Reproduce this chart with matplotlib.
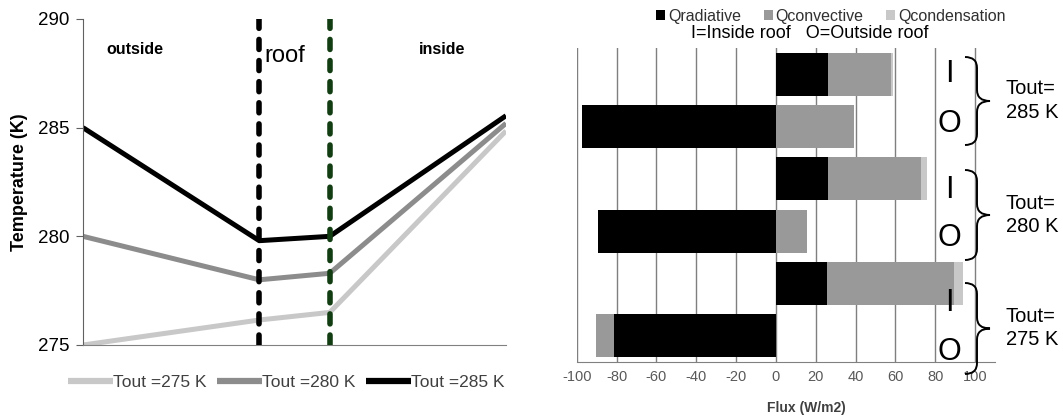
#!/usr/bin/env python

# Roof temperature profiles and surface heat fluxes

import numpy as np
import matplotlib
matplotlib.use("Agg")
import matplotlib.pyplot as plt
from matplotlib.path import Path
from matplotlib.patches import PathPatch

plt.rcParams['font.family'] = ['Liberation Sans', 'DejaVu Sans']

########################################################################
# data - left panel: temperature through the roof

xPos = [0.0, 1.25, 1.75, 3.0]   # outside, roof outer, roof inner, inside
temp275 = [275.0, 276.15, 276.5, 284.85]
temp280 = [280.0, 278.0, 278.3, 285.2]
temp285 = [285.0, 279.8, 280.0, 285.55]
seriesLabels = ['Tout =275 K', 'Tout =280 K', 'Tout =285 K']

# data - right panel: fluxes, bottom to top
# 275 O, 275 I, 280 O, 280 I, 285 O, 285 I
qRad = [-81.5, 25.8, -89.5, 26.0, -97.5, 26.4]
qConv = [-8.8, 63.7, 15.5, 46.8, 39.0, 31.2]
qCond = [0.0, 4.2, 0.0, 3.1, 0.0, 1.2]
fluxTicks = [-100, -80, -60, -40, -20, 0, 20, 40, 60, 80, 100]
toutLabels = ['Tout=\n275 K', 'Tout=\n280 K', 'Tout=\n285 K']

W, H = 1063, 419

def fx(px):
    return px / W

def fy(py):
    return 1.0 - py / H

########################################################################

def plotTemps(ax):

    ax.plot(xPos, temp275, color='#c8c8c8', linewidth=3.6, label=seriesLabels[0],
            solid_capstyle='butt')
    ax.plot(xPos, temp280, color='#8c8c8c', linewidth=3.6, label=seriesLabels[1],
            solid_capstyle='butt')
    ax.plot(xPos, temp285, color='black', linewidth=3.6, label=seriesLabels[2],
            solid_capstyle='butt')

    ax.axvline(xPos[1], color='black', linewidth=4.0, linestyle=(0, (1.8, 2.0)),
               dash_capstyle='round', zorder=5)
    ax.axvline(xPos[2], color='#123d12', linewidth=4.0, linestyle=(0, (1.8, 2.0)),
               dash_capstyle='round', zorder=5)

    ax.set_xlim(xPos[0], xPos[-1])
    ax.set_ylim(275, 290)
    ax.set_yticks([275, 280, 285, 290])
    ax.set_xticks([])
    ax.tick_params(axis='y', labelsize=13.5, length=5, color='#606060',
                   labelcolor='black', pad=5)
    for spine in ['top', 'right']:
        ax.spines[spine].set_visible(False)
    ax.spines['left'].set_color('#606060')
    ax.spines['bottom'].set_color('#808080')
    ax.set_ylabel('Temperature (K)', fontsize=13, fontweight='bold', labelpad=7)

    ax.text(0.37, 288.6, 'outside', fontsize=11.5, fontweight='bold',
            ha='center', va='center')
    ax.text(2.55, 288.6, 'inside', fontsize=11.5, fontweight='bold',
            ha='center', va='center')
    ax.text(1.43, 288.3, 'roof', fontsize=17, ha='center', va='center')

    leg = ax.legend(loc='center', bbox_to_anchor=(0.48, -0.115), ncol=3,
                    frameon=False, fontsize=12.5, handlelength=2.6,
                    handletextpad=0.0, columnspacing=0.6)
    for t in leg.get_texts():
        t.set_color('#404040')
    for ln in leg.get_lines():
        ln.set_linewidth(4.5)

########################################################################

def plotFlux(fig, ax):

    yPos = np.arange(len(qRad))
    rad = np.array(qRad)
    conv = np.array(qConv)
    cond = np.array(qCond)

    convLeft = np.where(conv >= 0, np.maximum(rad, 0), np.minimum(rad, 0))
    condLeft = convLeft + conv

    h = 0.82
    bRad = ax.barh(yPos, rad, height=h, color='black', label='Qradiative', zorder=3)
    bConv = ax.barh(yPos, conv, left=convLeft, height=h, color='#999999',
                    label='Qconvective', zorder=3)
    bCond = ax.barh(yPos, cond, left=condLeft, height=h, color='#c8c8c8',
                    label='Qcondensation', zorder=3)

    ax.set_xlim(-100, 110)
    ax.set_ylim(-0.5, len(qRad) - 0.5)
    ax.set_xticks(fluxTicks)
    ax.set_xticklabels([str(v) for v in fluxTicks])
    ax.set_yticks([])
    ax.grid(True, axis='x', color='#7f7f7f', linewidth=1.0, zorder=0)
    ax.tick_params(axis='x', length=0, labelsize=10.5, labelcolor='#595959', pad=6)
    for spine in ['top', 'right', 'left']:
        ax.spines[spine].set_visible(False)
    ax.spines['bottom'].set_color('#808080')

    fig.text(fx(806), fy(408), 'Flux (W/m2)', fontsize=10, fontweight='bold',
             color='#404040', ha='center', va='center')

    leg = fig.legend(handles=[bRad, bConv, bCond], loc='center',
                     bbox_to_anchor=(fx(831), fy(16)), ncol=3, frameon=False,
                     fontsize=11.5, handlelength=0.55, handleheight=0.55,
                     handletextpad=0.2, columnspacing=1.4)
    for t in leg.get_texts():
        t.set_color('#303030')

    fig.text(fx(810), fy(33), 'I=Inside roof   O=Outside roof', fontsize=13,
             ha='center', va='center')

########################################################################
# curly brace drawn in pixel coordinates on an overlay axes

def drawBrace(ax, x, y0, y1, w=12, t=13, r=11):

    ym = 0.5 * (y0 + y1)
    verts = [(x - w, y0), (x, y0), (x, y0 + r),
             (x, ym - r),
             (x, ym), (x + t, ym),
             (x, ym), (x, ym + r),
             (x, y1 - r),
             (x, y1), (x - w, y1)]
    codes = [Path.MOVETO, Path.CURVE3, Path.CURVE3,
             Path.LINETO,
             Path.CURVE3, Path.CURVE3,
             Path.CURVE3, Path.CURVE3,
             Path.LINETO,
             Path.CURVE3, Path.CURVE3]
    ax.add_patch(PathPatch(Path(verts, codes), facecolor='none',
                           edgecolor='black', linewidth=1.4))

def annotate(fig):

    over = fig.add_axes([0, 0, 1, 1], zorder=10)
    over.set_xlim(0, W)
    over.set_ylim(H, 0)
    over.axis('off')
    over.patch.set_alpha(0)

    braces = [(57, 145), (170, 260), (283, 374)]
    for (y0, y1) in braces:
        drawBrace(over, 977, y0, y1)

    letters = [('I', 74), ('O', 124), ('I', 190), ('O', 238), ('I', 303), ('O', 352)]
    for (s, y) in letters:
        over.text(949, y, s, fontsize=22, ha='center', va='center')

    toutY = [101, 215, 328]
    for lab, y in zip(toutLabels[::-1], toutY):
        over.text(1006, y - 12, lab.split('\n')[0], fontsize=14.5, ha='left', va='center')
        over.text(1006, y + 11, lab.split('\n')[1], fontsize=14.5, ha='left', va='center')

########################################################################

def main():

    fig = plt.figure(figsize=(W / 100.0, H / 100.0), dpi=100)

    ax1 = fig.add_axes([fx(83), fy(345), fx(506) - fx(83), fy(19) - fy(345)])
    ax2 = fig.add_axes([fx(576.7), fy(362), fx(995) - fx(576.7), fy(48) - fy(362)])

    plotTemps(ax1)
    plotFlux(fig, ax2)
    annotate(fig)

    fig.savefig('out.png', dpi=100)

if __name__ == "__main__":
    main()
